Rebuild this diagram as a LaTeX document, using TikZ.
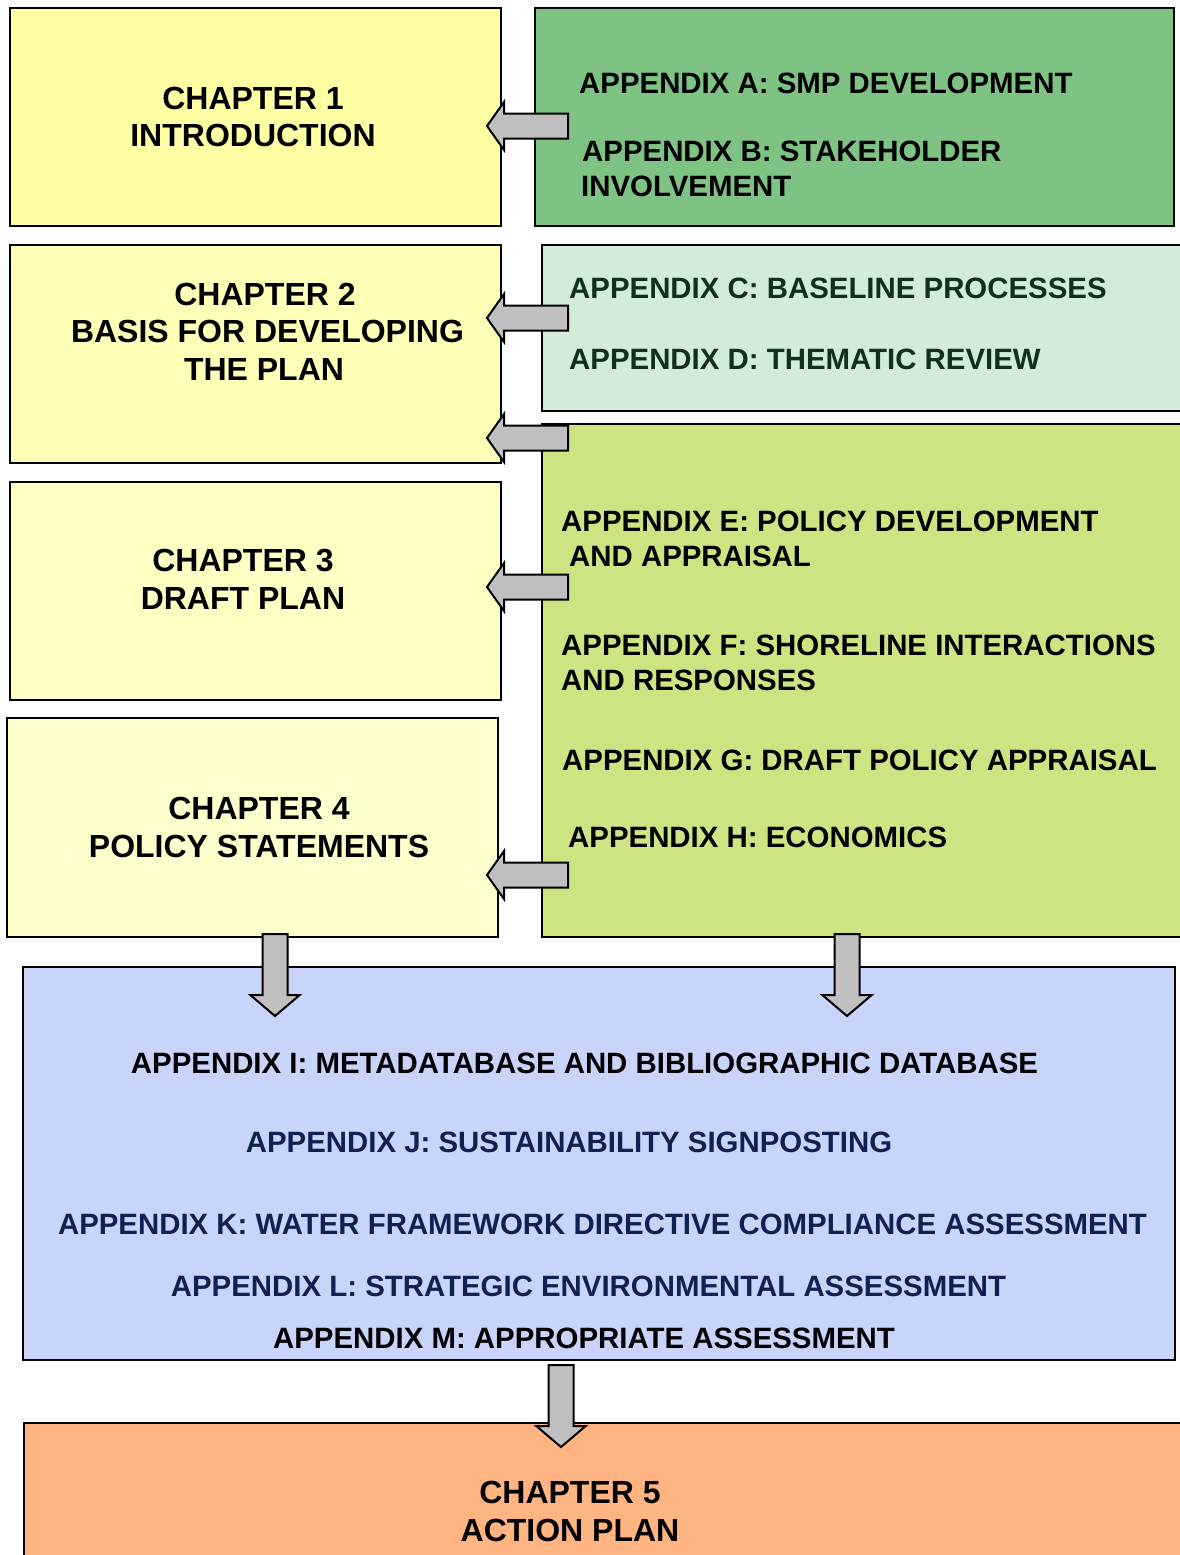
\documentclass[tikz,border=0pt]{standalone}
\usepackage{fontspec}
\setmainfont{Liberation Sans}
\newcommand\appf{\fontsize{29.4}{35}\selectfont\bfseries}
\newcommand\chapf{\fontsize{32}{37.5}\selectfont\bfseries}
\definecolor{chone}{HTML}{FFFFA3}
\definecolor{chtwo}{HTML}{FFFFB8}
\definecolor{chthree}{HTML}{FFFFC4}
\definecolor{chfour}{HTML}{FFFFCE}
\definecolor{appab}{HTML}{7EC284}
\definecolor{appcd}{HTML}{D3EBD9}
\definecolor{appeh}{HTML}{CCE482}
\definecolor{appblue}{HTML}{C8D4FA}
\definecolor{chfive}{HTML}{FFB482}
\definecolor{arrowgray}{HTML}{C0C0C0}
\definecolor{cdtext}{HTML}{10301F}
\definecolor{navytext}{HTML}{102050}
\tikzset{
  box/.style={draw=black, line width=2pt, rectangle, inner sep=0pt, outer sep=0pt},
  chline/.style={anchor=base, font=\chapf, inner sep=0pt},
  appline/.style={anchor=base west, font=\appf, inner sep=0pt},
  appcline/.style={anchor=base, font=\appf, inner sep=0pt},
  blockarrow/.style={draw=black, fill=arrowgray, line width=2pt, line join=miter},
  larrow/.pic={\path[blockarrow] (0,0) -- (17,-24) -- (17,-12.5) -- (81,-12.5) -- (81,12.5) -- (17,12.5) -- (17,24) -- cycle;},
  darrow/.pic={\path[blockarrow] (-12.5,0) -- (12.5,0) -- (12.5,61) -- (24.7,61) -- (0,82) -- (-24.7,61) -- (-12.5,61) -- cycle;}
}
\begin{document}
\begin{tikzpicture}[x=1pt,y=-1pt]
\clip (0,0) rectangle (1180,1555);
\fill[white] (0,0) rectangle (1180,1555);
% boxes
\node[box, fill=chone, minimum width=491pt, minimum height=218pt] (ch1) at (255.5,117) {};
\node[box, fill=appab, minimum width=639pt, minimum height=218pt] (appAB) at (854.5,117) {};
\node[box, fill=chtwo, minimum width=491pt, minimum height=218pt] (ch2) at (255.5,354) {};
\node[box, fill=appcd, minimum width=640pt, minimum height=166pt] (appCD) at (862,328) {};
\node[box, fill=chthree, minimum width=491pt, minimum height=218pt] (ch3) at (255.5,591) {};
\node[box, fill=appeh, minimum width=640pt, minimum height=513pt] (appEH) at (862,680.5) {};
\node[box, fill=chfour, minimum width=491pt, minimum height=219pt] (ch4) at (252.5,827.5) {};
\node[box, fill=appblue, minimum width=1152pt, minimum height=393pt] (appIM) at (599,1163.5) {};
\node[box, fill=chfive, minimum width=1158pt, minimum height=140pt] (ch5) at (603,1493) {};
% chapter texts
\node[chline] (t1a) at (253,109.3) {CHAPTER 1};
\node[chline] (t1b) at (253,146.3) {INTRODUCTION};
\node[chline] (t2a) at (265,305.3) {CHAPTER 2};
\node[chline] (t2b) at (267.5,342.3) {BASIS FOR DEVELOPING};
\node[chline] (t2c) at (264,380.3) {THE PLAN};
\node[chline] (t3a) at (243,571.3) {CHAPTER 3};
\node[chline] (t3b) at (243,609.3) {DRAFT PLAN};
\node[chline] (t4a) at (259,819.3) {CHAPTER 4};
\node[chline] (t4b) at (259,857.3) {POLICY STATEMENTS};
\node[chline] (t5a) at (570,1503.3) {CHAPTER 5};
\node[chline] (t5b) at (570,1541.3) {ACTION PLAN};
% appendix texts
\node[appline] (tA) at (579,93.4) {APPENDIX A: SMP DEVELOPMENT};
\node[appline] (tB1) at (582,161.4) {APPENDIX B: STAKEHOLDER};
\node[appline] (tB2) at (581,196.4) {INVOLVEMENT};
\node[appline, text=cdtext] (tC) at (569,298.4) {APPENDIX C: BASELINE PROCESSES};
\node[appline, text=cdtext] (tD) at (569,369.4) {APPENDIX D: THEMATIC REVIEW};
\node[appline] (tE1) at (561,531.4) {APPENDIX E: POLICY DEVELOPMENT};
\node[appline] (tE2) at (569,566.4) {AND APPRAISAL};
\node[appline] (tF1) at (561,655.4) {APPENDIX F: SHORELINE INTERACTIONS};
\node[appline] (tF2) at (561,690.4) {AND RESPONSES};
\node[appline] (tG) at (562,770.4) {APPENDIX G: DRAFT POLICY APPRAISAL};
\node[appline] (tH) at (568,847.4) {APPENDIX H: ECONOMICS};
\node[appcline] (tI) at (584.5,1073.6) {APPENDIX I: METADATABASE AND BIBLIOGRAPHIC DATABASE};
\node[appcline, text=navytext] (tJ) at (569,1152.6) {APPENDIX J: SUSTAINABILITY SIGNPOSTING};
\node[appcline, text=navytext] (tK) at (602.5,1234.4) {APPENDIX K: WATER FRAMEWORK DIRECTIVE COMPLIANCE ASSESSMENT};
\node[appcline, text=navytext] (tL) at (588.5,1296.4) {APPENDIX L: STRATEGIC ENVIRONMENTAL ASSESSMENT};
\node[appcline] (tM) at (584,1348.4) {APPENDIX M: APPROPRIATE ASSESSMENT};
% block arrows
\pic at (487,126) {larrow};
\pic at (487,318) {larrow};
\pic at (487,438) {larrow};
\pic at (487,587) {larrow};
\pic at (487,875) {larrow};
\pic at (275,934) {darrow};
\pic at (847,934) {darrow};
\pic at (561,1365) {darrow};
\end{tikzpicture}
\end{document}
